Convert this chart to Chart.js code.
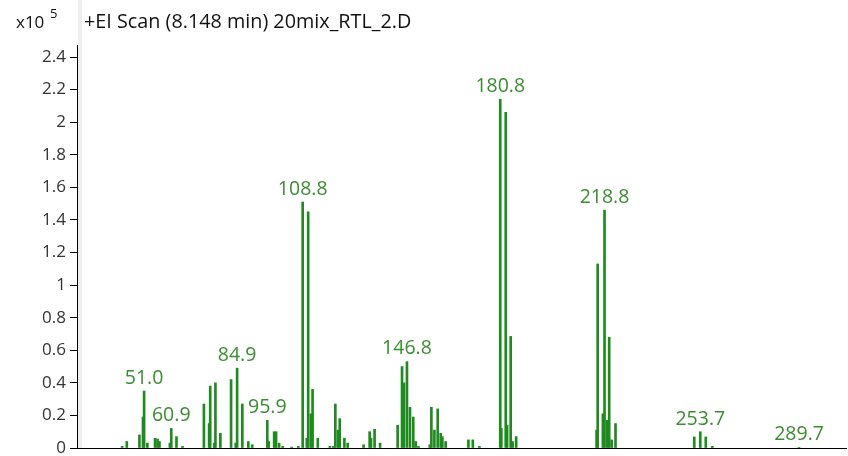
<!DOCTYPE html>
<html>
<head>
<meta charset="utf-8">
<script src="https://cdn.jsdelivr.net/npm/chart.js@4.4.0/dist/chart.umd.min.js"></script>
<style>
  html, body { margin: 0; padding: 0; background: #fff; }
  #wrap { width: 848px; height: 456px; position: relative; }
</style>
</head>
<body>
<div id="wrap"><canvas id="spectrum"></canvas></div>
<script>
const titleText = "+EI Scan (8.148 min) 20mix_RTL_2.D";

// m/z of each peak and its abundance (x10^5 counts)
const mz = [
    43.0, 44.7, 49.3, 50.6, 51.0, 52.2, 55.0, 55.9, 56.6, 60.4, 60.9, 62.8, 65.0,
    72.8, 74.7, 75.1, 76.6, 77.0, 78.8, 82.7, 84.4, 84.9, 86.8, 89.0, 90.4,
    95.9, 96.4, 98.4, 99.1, 100.2, 101.5, 104.8, 107.2,
    108.8, 110.3, 110.8, 111.8, 112.4, 114.3, 118.7, 119.9, 120.7, 121.7, 122.3, 124.0, 125.2,
    131.0, 133.2, 133.7, 135.0, 137.0, 143.4, 145.0, 145.7, 146.8, 147.9, 149.1, 150.0, 151.0,
    155.1, 155.7, 156.8, 158.0, 159.1, 159.7, 160.9,
    169.2, 170.8, 173.2, 180.8, 181.2, 182.8, 183.3, 184.6, 185.3, 186.6,
    215.9, 216.3, 218.2, 218.8, 219.8, 220.5, 221.4, 222.8,
    251.5, 253.7, 255.7, 258.1, 289.7
];
const abundance = [
    0.01, 0.04, 0.08, 0.19, 0.35, 0.03, 0.06, 0.055, 0.04, 0.03, 0.12, 0.07, 0.01,
    0.27, 0.15, 0.38, 0.03, 0.40, 0.09, 0.42, 0.03, 0.49, 0.27, 0.04, 0.02,
    0.17, 0.04, 0.10, 0.10, 0.03, 0.01, 0.006, 0.01,
    1.51, 0.06, 1.45, 0.21, 0.36, 0.06, 0.01, 0.01, 0.27, 0.11, 0.18, 0.06, 0.03,
    0.02, 0.10, 0.06, 0.115, 0.03, 0.14, 0.50, 0.40, 0.53, 0.25, 0.19, 0.04, 0.01,
    0.02, 0.25, 0.11, 0.24, 0.09, 0.07, 0.04,
    0.05, 0.05, 0.01, 2.14, 0.12, 2.06, 0.14, 0.685, 0.04, 0.07,
    0.11, 1.13, 0.21, 1.46, 0.17, 0.68, 0.05, 0.15,
    0.068, 0.10, 0.068, 0.01, 0.004
];

// peaks that carry an m/z label
const labelMz = [51.0, 60.9, 84.9, 95.9, 108.8, 146.8, 180.8, 218.8, 253.7, 289.7];

const yTickValues = [0, 0.2, 0.4, 0.6, 0.8, 1, 1.2, 1.4, 1.6, 1.8, 2, 2.2, 2.4];
const mzMin = 26.55;
const mzMax = 306.8;
const yMax = 2.474;

const FONT = "'Open Sans', 'Liberation Sans', Arial, sans-serif";

const headerPlugin = {
    id: 'header',
    beforeDraw(chart) {
        const ctx = chart.ctx;
        ctx.save();
        // thin grey strip left of the plot
        ctx.fillStyle = '#efefef';
        ctx.fillRect(78, 0, 4, chart.chartArea.bottom);
        ctx.restore();
    },
    afterDraw(chart) {
        const ctx = chart.ctx;
        ctx.save();
        ctx.fillStyle = '#111';
        ctx.textBaseline = 'alphabetic';
        ctx.font = '17px ' + FONT;
        ctx.fillText('x10', 16, 28);
        ctx.font = '13px ' + FONT;
        ctx.fillText('5', 50, 18);
        ctx.font = '19.8px ' + FONT;
        ctx.fillText(titleText, 84, 28);
        ctx.restore();
    }
};

const peakLabelPlugin = {
    id: 'peakLabels',
    afterDatasetsDraw(chart) {
        const ctx = chart.ctx;
        const xs = chart.scales.x, ys = chart.scales.y;
        ctx.save();
        ctx.fillStyle = '#3b8c30';
        ctx.font = '19.5px ' + FONT;
        ctx.textAlign = 'center';
        ctx.textBaseline = 'bottom';
        labelMz.forEach(m => {
            const i = mz.indexOf(m);
            const v = i >= 0 ? abundance[i] : 0;
            ctx.fillText(m.toFixed(1), xs.getPixelForValue(m), ys.getPixelForValue(v) - 3);
        });
        ctx.restore();
    }
};

new Chart(document.getElementById('spectrum'), {
    type: 'bar',
    data: {
        datasets: [{
            data: mz.map((m, i) => ({ x: m, y: abundance[i] })),
            backgroundColor: '#1f8a1f',
            barThickness: 2,
            borderWidth: 0
        }]
    },
    options: {
        responsive: true,
        maintainAspectRatio: false,
        animation: false,
        layout: { padding: { left: 0, top: 45, right: 2, bottom: 8 } },
        plugins: { legend: { display: false }, tooltip: { enabled: false } },
        scales: {
            x: {
                type: 'linear',
                min: mzMin,
                max: mzMax,
                offset: false,
                grid: { display: false },
                ticks: { display: false },
                border: { color: '#000', width: 1 },
                afterFit(scale) { scale.height = 0; }
            },
            y: {
                min: 0,
                max: yMax,
                grid: { drawOnChartArea: false, tickLength: 7, color: '#000' },
                border: { color: '#000', width: 1 },
                ticks: {
                    color: '#333',
                    padding: 4,
                    font: { family: FONT, size: 17 },
                    callback: v => String(+v.toFixed(1))
                },
                afterBuildTicks(scale) {
                    scale.ticks = yTickValues.map(v => ({ value: v }));
                },
                afterFit(scale) {
                    scale.width = 77;
                    scale.paddingTop = 0;
                    scale.paddingBottom = 0;
                }
            }
        }
    },
    plugins: [headerPlugin, peakLabelPlugin]
});
</script>
</body>
</html>
